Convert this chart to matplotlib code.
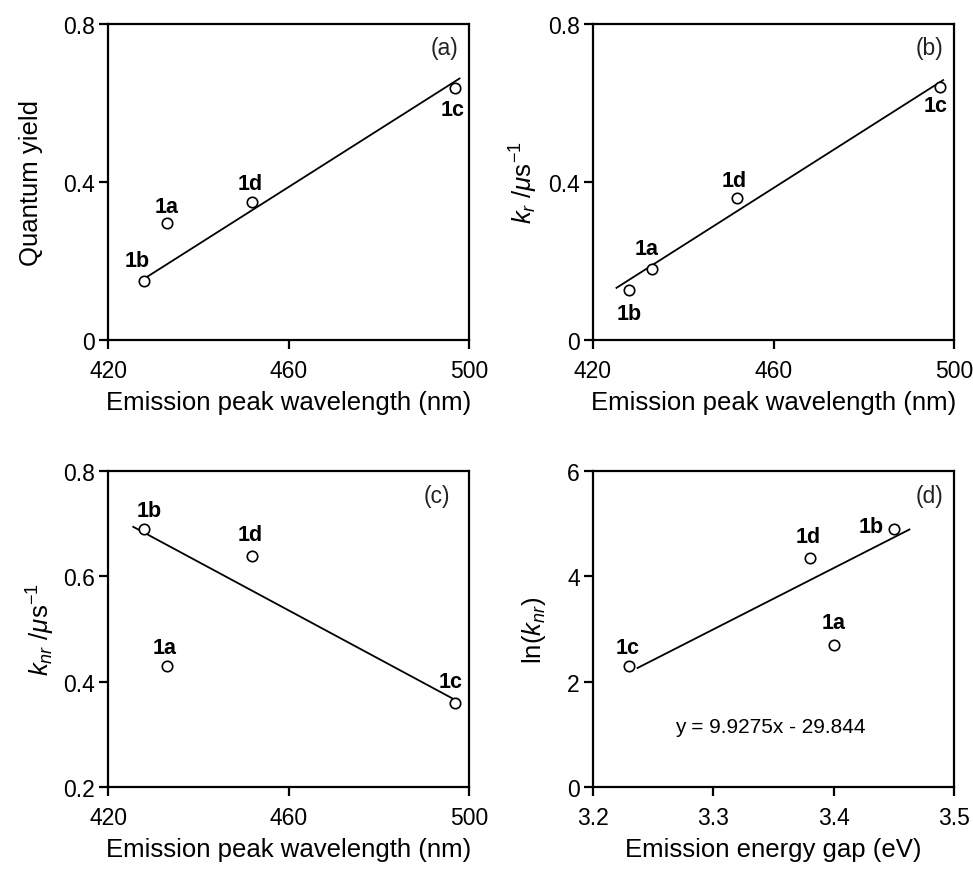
import numpy as np
import matplotlib.pyplot as plt

plt.rcParams['font.family'] = ['Liberation Sans', 'DejaVu Sans']
plt.rcParams['mathtext.fontset'] = 'custom'
plt.rcParams['mathtext.it'] = 'Liberation Sans:italic'
plt.rcParams['mathtext.rm'] = 'Liberation Sans'

names = ['1a', '1b', '1c', '1d']

# emission peak wavelength (nm)
wl = [433, 428, 497, 452]
# emission energy gap (eV)
gap = [3.40, 3.45, 3.23, 3.38]

qy = [0.296, 0.150, 0.637, 0.350]
kr = [0.180, 0.127, 0.641, 0.359]
knr = [0.430, 0.689, 0.360, 0.638]
ln_knr = [2.70, 4.89, 2.30, 4.35]

# fitted lines (end points as drawn)
fit_a_x, fit_a_y = [427.3, 497.9], [0.150, 0.662]
fit_b_x, fit_b_y = [425.2, 497.6], [0.132, 0.658]
fit_c_x, fit_c_y = [425.6, 496.8], [0.694, 0.366]
fit_d_x, fit_d_y = [3.237, 3.463], [2.26, 4.89]

eq_text = 'y = 9.9275x - 29.844'

# label offsets in pixels (dx, dy) per point, order as names
offs_a = [(0, 17), (-7, 20), (-3, -21), (-2, 18)]
offs_b = [(-5, 20), (0, -24), (-5, -19), (-3, 18)]
offs_c = [(-2, 18), (5, 19), (-5, 21), (-2, 22)]
offs_d = [(0, 22), (-23, 3), (-1, 18), (-1, 21)]

fig = plt.figure(figsize=(9.73, 8.70), dpi=100)
W, H = 973.0, 870.0


def make_ax(l, r, t, b):
    return fig.add_axes([l / W, 1 - b / H, (r - l) / W, (b - t) / H])


ax_a = make_ax(108, 469, 25, 341)
ax_b = make_ax(593, 954, 25, 341)
ax_c = make_ax(108, 469, 472, 788)
ax_d = make_ax(593, 954, 472, 788)

panels = [
    (ax_a, wl, qy, fit_a_x, fit_a_y, offs_a, '(a)', (0.933, 0.926)),
    (ax_b, wl, kr, fit_b_x, fit_b_y, offs_b, '(b)', (0.933, 0.926)),
    (ax_c, wl, knr, fit_c_x, fit_c_y, offs_c, '(c)', (0.91, 0.921)),
    (ax_d, gap, ln_knr, fit_d_x, fit_d_y, offs_d, '(d)', (0.933, 0.921)),
]

for ax, xs, ys, fx, fy, offs, tag, tagpos in panels:
    ax.plot(fx, fy, color='black', lw=1.3, zorder=2)
    ax.plot(xs, ys, 'o', ms=7.5, mfc='white', mec='black', mew=1.2, zorder=3)
    for n, x, y, (dx, dy) in zip(names, xs, ys, offs):
        ax.annotate(n, (x, y), xytext=(dx, dy), textcoords='offset pixels',
                    ha='center', va='center', fontsize=15.5, fontweight='bold')
    ax.text(tagpos[0], tagpos[1], tag, transform=ax.transAxes,
            ha='center', va='center', fontsize=16.5, color='#222222')
    for s in ax.spines.values():
        s.set_linewidth(1.6)
    ax.tick_params(direction='out', length=6.5, width=1.6, labelsize=16.5,
                   colors='black')
    ax.tick_params(axis='x', pad=7)
    ax.tick_params(axis='y', pad=3)

for ax in (ax_a, ax_b, ax_c):
    ax.set_xlim(420, 500)
    ax.set_xticks([420, 460, 500])
    ax.set_xlabel('Emission peak wavelength (nm)', fontsize=18.5, labelpad=6)

for ax in (ax_a, ax_b):
    ax.set_ylim(0, 0.8)
    ax.set_yticks([0, 0.4, 0.8])
    ax.set_yticklabels(['0', '0.4', '0.8'])

ax_c.set_ylim(0.2, 0.8)
ax_c.set_yticks([0.2, 0.4, 0.6, 0.8])

ax_d.set_xlim(3.2, 3.5)
ax_d.set_xticks([3.2, 3.3, 3.4, 3.5])
ax_d.set_ylim(0, 6)
ax_d.set_yticks([0, 2, 4, 6])
ax_d.set_xlabel('Emission energy gap (eV)', fontsize=18.5, labelpad=6)
ax_d.text(3.347, 1.14, eq_text, ha='center', va='center', fontsize=15)

ax_a.set_ylabel('Quantum yield', fontsize=18.5, labelpad=14)
ax_b.set_ylabel(r'$k_r$ /$\mathit{\mu}$s$^{-1}$', fontsize=18.5, labelpad=6)
ax_c.set_ylabel(r'$k_{nr}$ /$\mathit{\mu}$s$^{-1}$', fontsize=18.5, labelpad=4)
ax_d.set_ylabel(r'ln($k_{nr}$)', fontsize=18.5, labelpad=14)

fig.savefig('out.png', dpi=100)
